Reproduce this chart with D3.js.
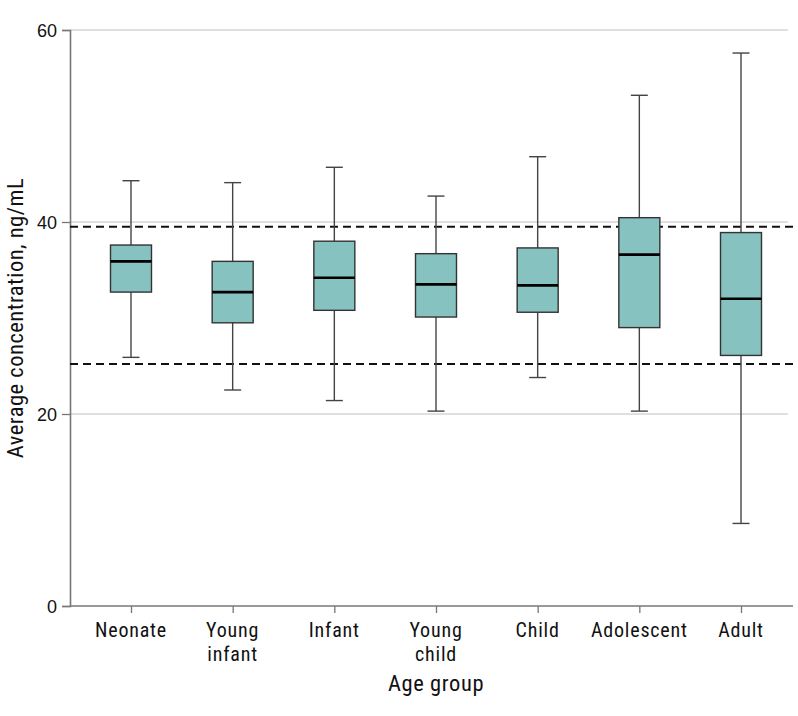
<!DOCTYPE html>
<html lang="en">
<head>
    <meta charset="UTF-8">
    <title>Average concentration by age group</title>
    <script src="https://d3js.org/d3.v7.min.js"></script>
    <style>
        body {
            margin: 0;
            background: #fff;
        }
        text.lbl {
            font-family: "Roboto Condensed", "DejaVu Sans Condensed", sans-serif;
            fill: #111;
        }
    </style>
</head>
<body>
<script>
    // values
    var groups = ["Neonate", "Young infant", "Infant", "Young child", "Child", "Adolescent", "Adult"];
    var whiskerLow = [25.9, 22.5, 21.4, 20.3, 23.8, 20.3, 8.6];
    var q1 = [32.7, 29.5, 30.8, 30.1, 30.6, 29.0, 26.1];
    var median = [35.9, 32.7, 34.2, 33.5, 33.4, 36.6, 32.0];
    var q3 = [37.6, 35.9, 38.0, 36.7, 37.3, 40.45, 38.9];
    var whiskerHigh = [44.3, 44.1, 45.7, 42.7, 46.8, 53.2, 57.6];
    var refLines = [39.5, 25.2];
    var yTicks = [0, 20, 40, 60];

    var width = 798, height = 716;
    var mLeft = 70, mRight = 790, mTop = 30, mBottom = 606;

    var svg = d3.select("body").append("svg")
        .attr("width", width)
        .attr("height", height);

    var y = d3.scaleLinear().domain([0, 60]).range([mBottom, mTop]);
    var x = d3.scalePoint().domain(groups).range([131, 741]);

    // grid
    svg.append("g").selectAll("line")
        .data(yTicks.filter(function (d) { return d > 0; }))
        .enter().append("line")
        .attr("x1", mLeft).attr("x2", mRight - 2)
        .attr("y1", function (d) { return y(d); })
        .attr("y2", function (d) { return y(d); })
        .attr("stroke", "#d4d4d4")
        .attr("stroke-width", 1.5);

    // y axis
    var yAxis = svg.append("g")
        .attr("transform", "translate(" + mLeft + ",0)")
        .call(d3.axisLeft(y).tickValues(yTicks).tickSize(8).tickPadding(5));
    yAxis.select(".domain").attr("stroke", "#777").attr("stroke-width", 1.6);
    yAxis.selectAll(".tick line").attr("stroke", "#777").attr("stroke-width", 1.3);
    yAxis.selectAll(".tick text")
        .style("font-family", "\"Liberation Sans\", Arial, sans-serif")
        .style("font-size", "18px")
        .attr("fill", "#111")
        .attr("dy", "0.36em");

    // x axis
    var xAxis = svg.append("g")
        .attr("transform", "translate(0," + mBottom + ")")
        .call(d3.axisBottom(x).tickSize(7).tickFormat(""));
    xAxis.select(".domain").remove();
    xAxis.selectAll(".tick line").attr("stroke", "#777").attr("stroke-width", 1.3);
    svg.append("line")
        .attr("x1", mLeft).attr("x2", mRight + 3)
        .attr("y1", mBottom).attr("y2", mBottom)
        .attr("stroke", "#777").attr("stroke-width", 1.6);

    var labels = svg.append("g").selectAll("text")
        .data(groups)
        .enter().append("text")
        .attr("class", "lbl")
        .attr("x", function (d) { return x(d); })
        .attr("y", 637)
        .attr("text-anchor", "middle")
        .style("font-size", "20px")
        .style("letter-spacing", "0.8px");
    labels.each(function (d) {
        var t = d3.select(this);
        d.split(" ").forEach(function (w, i) {
            t.append("tspan").attr("x", x(d)).attr("dy", i === 0 ? 0 : 24).text(w);
        });
    });

    svg.append("text")
        .attr("class", "lbl")
        .attr("x", 436)
        .attr("y", 691)
        .attr("text-anchor", "middle")
        .style("font-size", "22.5px")
        .style("letter-spacing", "0.6px")
        .text("Age group");

    svg.append("text")
        .attr("class", "lbl")
        .attr("transform", "translate(23,318) rotate(-90)")
        .attr("text-anchor", "middle")
        .style("font-size", "22.5px")
        .style("letter-spacing", "0.5px")
        .text("Average concentration, ng/mL");

    // reference lines
    svg.append("g").selectAll("line")
        .data(refLines)
        .enter().append("line")
        .attr("x1", mLeft).attr("x2", mRight + 3)
        .attr("y1", function (d) { return y(d); })
        .attr("y2", function (d) { return y(d); })
        .attr("stroke", "#111")
        .attr("stroke-width", 2)
        .attr("stroke-dasharray", "8,5");

    // boxes
    var boxW = 41, capW = 17;
    var data = groups.map(function (g, i) {
        return {g: g, lo: whiskerLow[i], q1: q1[i], med: median[i], q3: q3[i], hi: whiskerHigh[i]};
    });
    var box = svg.append("g").selectAll("g")
        .data(data)
        .enter().append("g");

    box.append("line")
        .attr("x1", function (d) { return x(d.g); })
        .attr("x2", function (d) { return x(d.g); })
        .attr("y1", function (d) { return y(d.hi); })
        .attr("y2", function (d) { return y(d.lo); })
        .attr("stroke", "#444").attr("stroke-width", 1.4);
    ["hi", "lo"].forEach(function (k) {
        box.append("line")
            .attr("x1", function (d) { return x(d.g) - capW / 2; })
            .attr("x2", function (d) { return x(d.g) + capW / 2; })
            .attr("y1", function (d) { return y(d[k]); })
            .attr("y2", function (d) { return y(d[k]); })
            .attr("stroke", "#444").attr("stroke-width", 1.4);
    });
    box.append("rect")
        .attr("x", function (d) { return x(d.g) - boxW / 2; })
        .attr("width", boxW)
        .attr("y", function (d) { return y(d.q3); })
        .attr("height", function (d) { return y(d.q1) - y(d.q3); })
        .attr("fill", "#85c2c0")
        .attr("stroke", "#333")
        .attr("stroke-width", 1.4);
    box.append("line")
        .attr("x1", function (d) { return x(d.g) - boxW / 2; })
        .attr("x2", function (d) { return x(d.g) + boxW / 2; })
        .attr("y1", function (d) { return y(d.med); })
        .attr("y2", function (d) { return y(d.med); })
        .attr("stroke", "#000").attr("stroke-width", 2.6);
</script>
</body>
</html>
